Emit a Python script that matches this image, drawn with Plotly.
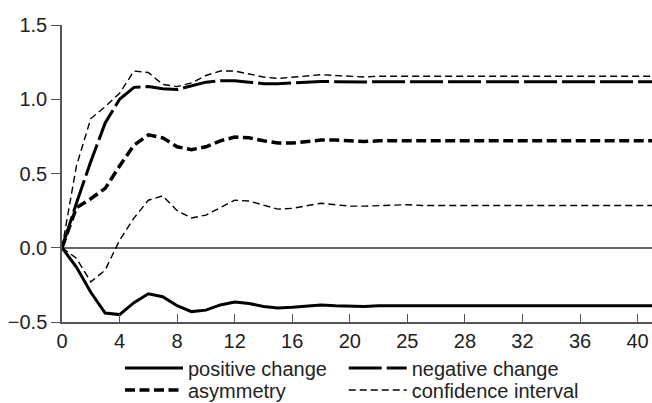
import plotly.graph_objects as go

periods = list(range(42))

positive = [0.0, -0.13, -0.30, -0.44, -0.45, -0.37, -0.31, -0.33, -0.39, -0.43,
            -0.42, -0.385, -0.365, -0.375, -0.395, -0.405, -0.40, -0.39, -0.385, -0.39,
            -0.395, -0.395, -0.39, -0.39, -0.39, -0.39, -0.39, -0.39, -0.39, -0.39,
            -0.39, -0.39, -0.39, -0.39, -0.39, -0.39, -0.39, -0.39, -0.39, -0.39,
            -0.39, -0.39]

negative = [0.0, 0.30, 0.58, 0.84, 1.00, 1.08, 1.085, 1.07, 1.065, 1.09,
            1.115, 1.125, 1.125, 1.115, 1.105, 1.105, 1.11, 1.12, 1.12, 1.118,
            1.115, 1.116, 1.118, 1.118, 1.118, 1.118, 1.118, 1.118, 1.118, 1.118,
            1.118, 1.118, 1.118, 1.118, 1.118, 1.118, 1.118, 1.118, 1.118, 1.118,
            1.118, 1.118]

asymmetry = [0.0, 0.27, 0.33, 0.40, 0.55, 0.69, 0.76, 0.74, 0.68, 0.66,
             0.68, 0.72, 0.745, 0.74, 0.72, 0.705, 0.705, 0.715, 0.725, 0.725,
             0.72, 0.715, 0.72, 0.72, 0.72, 0.72, 0.72, 0.72, 0.72, 0.72,
             0.72, 0.72, 0.72, 0.72, 0.72, 0.72, 0.72, 0.72, 0.72, 0.72,
             0.72, 0.72]

ci_upper = [0.0, 0.55, 0.87, 0.95, 1.04, 1.19, 1.18, 1.10, 1.085, 1.11,
            1.16, 1.19, 1.19, 1.17, 1.15, 1.14, 1.15, 1.16, 1.165, 1.16,
            1.155, 1.15, 1.155, 1.155, 1.155, 1.155, 1.155, 1.155, 1.155, 1.155,
            1.155, 1.155, 1.155, 1.155, 1.155, 1.155, 1.155, 1.155, 1.155, 1.155,
            1.155, 1.155]

ci_lower = [0.0, -0.07, -0.23, -0.15, 0.05, 0.20, 0.32, 0.35, 0.25, 0.20,
            0.22, 0.27, 0.32, 0.315, 0.285, 0.26, 0.265, 0.285, 0.30, 0.29,
            0.28, 0.28, 0.285, 0.29, 0.29, 0.285, 0.285, 0.285, 0.285, 0.285,
            0.285, 0.285, 0.285, 0.285, 0.285, 0.285, 0.285, 0.285, 0.285, 0.285,
            0.285, 0.285]

x_tickvals = [0, 4, 8, 12, 16, 20, 24, 28, 32, 36, 40]
x_ticktext = ["0", "4", "8", "12", "16", "20", "25", "28", "32", "36", "40"]
y_tickvals = [-0.5, 0.0, 0.5, 1.0, 1.5]

FONT = "Liberation Sans, Arial, sans-serif"

fig = go.Figure()
fig.add_trace(go.Scatter(x=periods, y=positive, mode="lines", name="positive change",
                         legend="legend",
                         line=dict(color="black", width=3)))
fig.add_trace(go.Scatter(x=periods, y=negative, mode="lines", name="negative change",
                         legend="legend2",
                         line=dict(color="black", width=3, dash="33px,5px")))
fig.add_trace(go.Scatter(x=periods, y=asymmetry, mode="lines", name="asymmetry",
                         legend="legend3",
                         line=dict(color="black", width=3.5, dash="10px,4.5px")))
fig.add_trace(go.Scatter(x=periods, y=ci_upper, mode="lines", name="confidence interval",
                         legend="legend4",
                         line=dict(color="black", width=1.4, dash="7px,4px")))
fig.add_trace(go.Scatter(x=periods, y=ci_lower, mode="lines", name="confidence interval",
                         showlegend=False, legend="legend4",
                         line=dict(color="black", width=1.4, dash="7px,4px")))

legend_common = dict(orientation="h", xanchor="left", yanchor="middle",
                     font=dict(family=FONT, size=20, color="#222"),
                     itemwidth=58, bgcolor="rgba(0,0,0,0)", borderwidth=0)

col1_x, col2_x = 0.0983, 0.4775
row1_y, row2_y = -0.155, -0.229

fig.update_layout(
    width=652, height=403,
    margin=dict(l=62, r=0, t=25, b=81, autoexpand=False),
    paper_bgcolor="white", plot_bgcolor="white",
    font=dict(family=FONT, size=20, color="#222"),
    showlegend=True,
    legend=dict(x=col1_x, y=row1_y, **legend_common),
    legend2=dict(x=col2_x, y=row1_y, **legend_common),
    legend3=dict(x=col1_x, y=row2_y, **legend_common),
    legend4=dict(x=col2_x, y=row2_y, **legend_common),
    xaxis=dict(range=[0, 41], tickvals=x_tickvals, ticktext=x_ticktext,
               showgrid=False, zeroline=False, showline=True, linecolor="#555",
               linewidth=1.5, ticks="inside", ticklen=8, tickcolor="#555",
               tickwidth=1.2, automargin=False),
    yaxis=dict(range=[-0.5, 1.5], tickvals=y_tickvals, tickformat=".1f",
               showgrid=False, zeroline=True, zerolinecolor="#666", zerolinewidth=1.5,
               showline=True, linecolor="#555", linewidth=1.5, ticks="outside",
               ticklen=9, tickcolor="#555", tickwidth=1.2, automargin=False),
)

fig.write_html(
    "out.html",
    config={"displayModeBar": False},
    post_script=(
        "document.documentElement.style.margin='0';"
        "document.body.style.margin='0';"
        "document.documentElement.style.overflow='hidden';"
        "document.body.style.overflow='hidden';"
    ),
)
